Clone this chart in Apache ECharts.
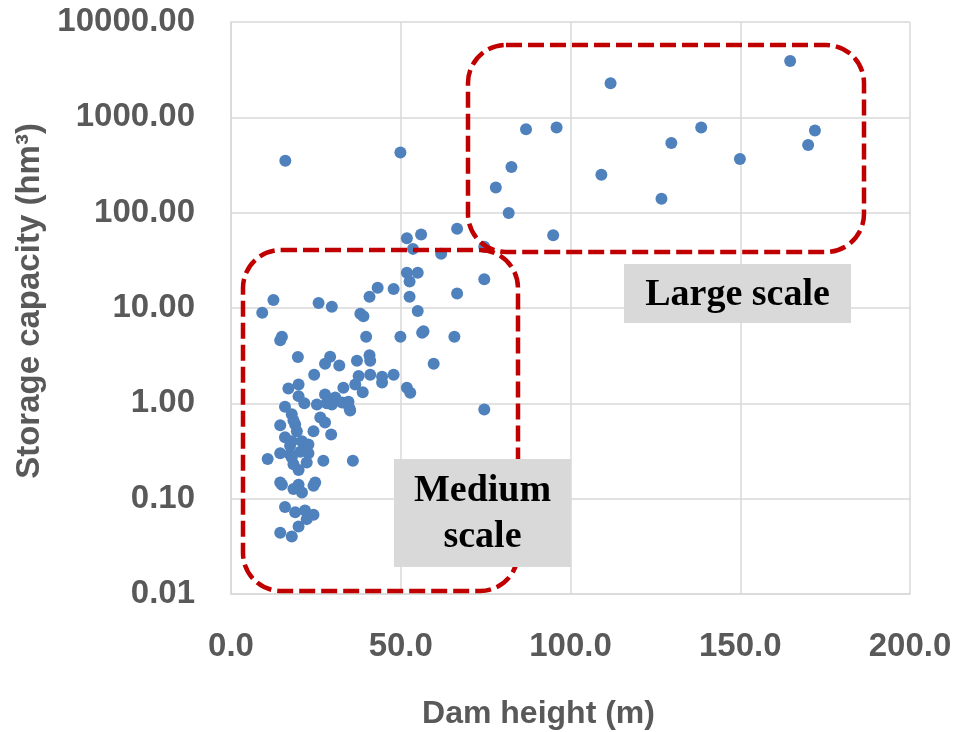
<!DOCTYPE html>
<html><head><meta charset="utf-8">
<script src="https://cdn.jsdelivr.net/npm/echarts@6/dist/echarts.min.js"></script>
<style>html,body{margin:0;padding:0;background:#fff}#c{width:957px;height:732px}</style>
</head><body><div id="c"></div>
<script>
// Dam height (m)
const damHeight = [
  16.0, 49.9, 111.8, 164.7, 86.9, 95.9, 138.5, 129.7, 172.0, 170.0,
  149.9, 82.6, 78.0, 109.1, 126.8, 81.8, 94.9, 66.6, 74.6, 51.8,
  56.0, 53.6, 61.9, 51.8, 55.0, 52.6, 74.6, 43.2, 47.9, 40.8,
  52.6, 66.6, 12.5, 9.2, 25.8, 29.7, 38.1, 39.0, 55.0, 39.8,
  49.9, 65.8, 56.3, 56.7, 15.0, 14.5, 19.7, 29.2, 27.7, 31.9,
  37.1, 40.8, 41.0, 59.7, 24.5, 37.6, 41.0, 44.5, 47.9, 44.5,
  16.9, 19.9, 33.1, 36.6, 38.8, 51.8, 52.8, 19.9, 27.7, 30.7,
  21.6, 15.9, 25.3, 29.7, 32.7, 34.6, 35.1, 34.9, 28.2, 74.6,
  17.9, 26.3, 27.7, 14.5, 18.9, 18.4, 24.3, 29.5, 19.4, 15.9,
  17.9, 20.9, 22.8, 17.4, 14.5, 17.4, 20.4, 22.8, 10.8, 27.2,
  35.9, 18.4, 22.3, 19.9, 17.9, 14.5, 15.0, 19.9, 24.8, 18.4,
  20.9, 24.3, 15.9, 18.9, 21.8, 24.3, 22.3, 19.9, 14.5, 17.9
];
// Storage capacity (hm3)
const storageCapacity = [
  350, 428, 2280, 3890, 752, 782, 782, 537, 728, 513,
  365, 301, 184, 250, 140, 99, 58, 68, 44, 54,
  59, 41.7, 37, 23.4, 23.4, 19, 20, 16.3, 15.8, 13.1,
  13.1, 14.2, 12.1, 8.9, 11.3, 10.3, 8.7, 8.2, 9.3, 5.0,
  5.0, 5.0, 5.5, 5.7, 5.0, 4.6, 3.06, 3.08, 2.6, 2.5,
  2.8, 3.2, 2.8, 2.6, 2.0, 1.93, 2.0, 1.9, 2.0, 1.65,
  1.43, 1.58, 1.46, 1.58, 1.31, 1.46, 1.29, 1.19, 1.24, 1.15,
  1.0, 0.92, 0.97, 0.97, 1.02, 1.04, 0.84, 0.89, 1.0, 0.86,
  0.77, 0.71, 0.63, 0.59, 0.60, 0.66, 0.51, 0.47, 0.51, 0.44,
  0.40, 0.40, 0.37, 0.36, 0.30, 0.29, 0.31, 0.30, 0.26, 0.25,
  0.25, 0.23, 0.24, 0.20, 0.27, 0.148, 0.14, 0.14, 0.148, 0.126,
  0.116, 0.137, 0.082, 0.072, 0.075, 0.068, 0.061, 0.051, 0.044, 0.040
];
const xAxisTitle = 'Dam height (m)';
const yAxisTitle = 'Storage capacity (hm\u00B3)';
const labelLarge = 'Large scale';
const labelMedium = 'Medium\nscale';

const points = damHeight.map((h, i) => [h, storageCapacity[i]]);

const chart = echarts.init(document.getElementById('c'), null, {renderer: 'canvas'});
const axisFont = {color: '#595959', fontSize: 33, fontWeight: 'bold', fontFamily: 'Liberation Sans'};
const red = '#C00000';
chart.setOption({
  animation: false,
  backgroundColor: '#ffffff',
  grid: {left: 231, right: 47, top: 22, bottom: 138, containLabel: false, outerBoundsMode: 'none'},
  xAxis: {
    type: 'value', min: 0, max: 200, interval: 50,
    name: xAxisTitle, nameLocation: 'middle', nameGap: 104,
    nameTextStyle: {color: '#595959', fontSize: 32, fontWeight: 'bold', fontFamily: 'Liberation Sans', padding: [0, 64, 0, 0]},
    axisLine: {show: true, lineStyle: {color: '#d9d9d9', width: 1.5}},
    axisTick: {show: false},
    axisLabel: Object.assign({margin: 36, formatter: v => v.toFixed(1)}, axisFont),
    splitLine: {show: true, lineStyle: {color: '#d9d9d9', width: 1.5}}
  },
  yAxis: {
    type: 'log', logBase: 10, min: 0.01, max: 10000,
    name: yAxisTitle, nameLocation: 'middle', nameGap: 184, nameRotate: 90,
    nameTextStyle: {color: '#595959', fontSize: 33, fontWeight: 'bold', fontFamily: 'Liberation Sans', padding: [0, 0, 0, 14]},
    axisLine: {show: true, lineStyle: {color: '#d9d9d9', width: 1.5}},
    axisTick: {show: false},
    axisLabel: Object.assign({margin: 36, padding: [4, 0, 0, 0], formatter: v => Number(v).toFixed(2)}, axisFont),
    splitLine: {show: true, lineStyle: {color: '#d9d9d9', width: 1.5}}
  },
  series: [{
    type: 'scatter',
    data: points,
    symbol: 'circle',
    symbolSize: 12,
    itemStyle: {color: '#4F81BD', opacity: 1},
    z: 2
  }],
  graphic: [
    {type: 'rect', z: 100, shape: {x: 468, y: 45, width: 396, height: 207, r: 38},
     style: {fill: 'none', stroke: red, lineWidth: 4.5, lineDash: [16, 6]}},
    {type: 'rect', z: 100, shape: {x: 243, y: 250, width: 275, height: 341, r: 38},
     style: {fill: 'none', stroke: red, lineWidth: 4.5, lineDash: [16, 6]}},
    {type: 'rect', z: 110, shape: {x: 624, y: 264, width: 227, height: 59},
     style: {fill: '#d9d9d9', stroke: 'none'}},
    {type: 'text', z: 111, style: {x: 737.5, y: 295, text: labelLarge, align: 'center', verticalAlign: 'middle',
      fontSize: 38, fontWeight: 'bold', fontFamily: 'Liberation Serif', fill: '#000'}},
    {type: 'rect', z: 110, shape: {x: 394, y: 459, width: 177, height: 108},
     style: {fill: '#d9d9d9', stroke: 'none'}},
    {type: 'text', z: 111, style: {x: 482.5, y: 514, text: labelMedium, align: 'center', verticalAlign: 'middle',
      lineHeight: 46, fontSize: 38, fontWeight: 'bold', fontFamily: 'Liberation Serif', fill: '#000'}}
  ]
});
</script>
</body></html>
